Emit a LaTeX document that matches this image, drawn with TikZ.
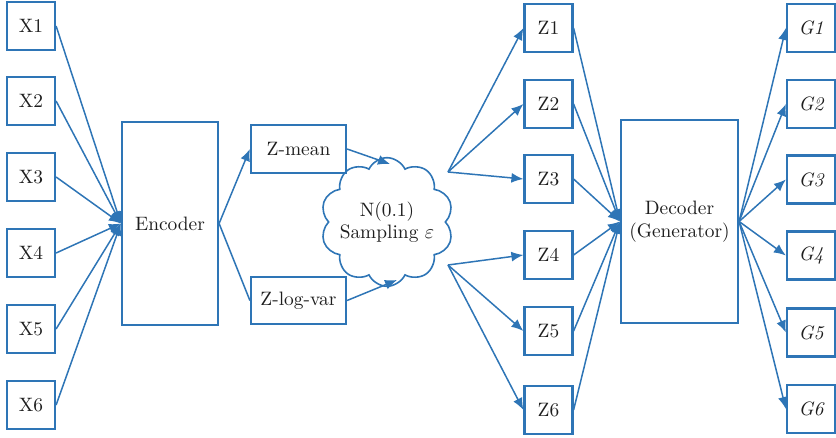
\documentclass[tikz,border=0pt]{standalone}
\usetikzlibrary{arrows.meta,shapes.symbols}
\definecolor{vaeblue}{RGB}{46,117,182}
\definecolor{vaetext}{RGB}{30,30,30}

\begin{document}
\begin{tikzpicture}[x=0.5pt,y=-0.5pt,font=\fontsize{9.7}{11.2}\selectfont]
   \useasboundingbox (0,0) rectangle (836,438);
   \tikzset{box/.style={rectangle,draw=vaeblue,line width=1.1pt,inner sep=0pt,text=vaetext,
                        minimum width=24pt,minimum height=24pt}}
   \begin{scope}[every node/.style={box}]
    \node (x1) at (31,26) {X1};
    \node (x2) at (31,101) {X2};
    \node (x3) at (31,177) {X3};
    \node (x4) at (31,253) {X4};
    \node (x5) at (31,329) {X5};
    \node (x6) at (31,405) {X6};
    \node[minimum width=48pt,minimum height=101.5pt] (enc) at (170,223.5) {Encoder};
    \node[minimum width=47.5pt] (zmean) at (298.5,149) {Z-mean};
    \node[minimum width=47.5pt,minimum height=23.5pt] (zlogvar) at (298.5,300.5) {Z-log-var};
    \node (z1) at (548.5,28) {Z1};
    \node (z2) at (548.5,104) {Z2};
    \node (z3) at (548.5,179) {Z3};
    \node (z4) at (548.5,255) {Z4};
    \node (z5) at (548.5,331) {Z5};
    \node (z6) at (548.5,410) {Z6};
    \node[minimum width=58.5pt,minimum height=101.5pt,align=center] (dec) at (679.5,221.5) {Decoder\\(Generator)};
    \node (g1) at (811,28) {\itshape G1};
    \node (g2) at (811,104) {\itshape G2};
    \node (g3) at (811,179.5) {\itshape G3};
    \node (g4) at (811,255.5) {\itshape G4};
    \node (g5) at (811,332.5) {\itshape G5};
    \node (g6) at (811,409) {\itshape G6};
   \end{scope}
   \node[cloud,draw=vaeblue,line width=0.8pt,cloud puffs=10,cloud puff arc=130,aspect=1.05,
         inner sep=-3pt,align=center,text=vaetext] (samp) at (387,222)
         {N(0.1)\\Sampling $\varepsilon$};
   \coordinate (meanin) at (390,164);
   \coordinate (varin) at (397,280);
   \coordinate (sampup) at (448,172);
   \coordinate (sampdown) at (448,265);
   \begin{scope}[every edge/.style={draw=vaeblue,line width=0.75pt,-{Latex[length=6pt,width=5pt]}}]
    \draw  (x1.east) edge (enc.west);
    \draw  (x2.east) edge (enc.west);
    \draw  (x3.east) edge (enc.west);
    \draw  (x4.east) edge (enc.west);
    \draw  (x5.east) edge (enc.west);
    \draw  (x6.east) edge (enc.west);
    \draw  (enc.east) edge (zmean.west);
    \draw  (enc.east) edge[-] (zlogvar.west);
    \draw  (zmean.east) edge (meanin);
    \draw  (zlogvar.east) edge (varin);
    \draw  (sampup) edge (z1.west);
    \draw  (sampup) edge (z2.west);
    \draw  (sampup) edge (z3.west);
    \draw  (sampdown) edge (z4.west);
    \draw  (sampdown) edge (z5.west);
    \draw  (sampdown) edge (z6.west);
    \draw  (z1.east) edge (dec.west);
    \draw  (z2.east) edge (dec.west);
    \draw  (z3.east) edge (dec.west);
    \draw  (z4.east) edge (dec.west);
    \draw  (z5.east) edge (dec.west);
    \draw  (z6.east) edge (dec.west);
    \draw  (dec.east) edge (g1.west);
    \draw  (dec.east) edge (g2.west);
    \draw  (dec.east) edge (g3.west);
    \draw  (dec.east) edge (g4.west);
    \draw  (dec.east) edge (g5.west);
    \draw  (dec.east) edge (g6.west);
   \end{scope}
\end{tikzpicture}
\end{document}
